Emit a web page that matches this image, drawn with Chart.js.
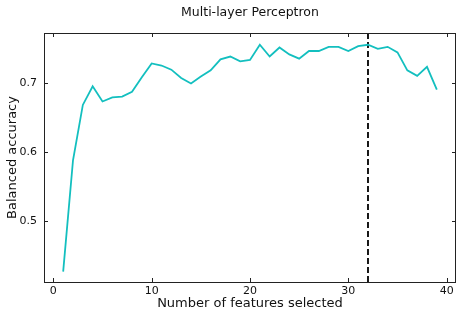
<!DOCTYPE html>
<html>
<head>
<meta charset="utf-8">
<script src="https://cdn.jsdelivr.net/npm/chart.js@4/dist/chart.umd.min.js"></script>
<style>
  html, body { margin: 0; padding: 0; background: #fff; }
</style>
</head>
<body>
<canvas id="chart" width="464" height="317"></canvas>
<script>
// features selected (x) and balanced accuracy (y)
var nFeatures = [];
for (var i = 1; i <= 39; i++) nFeatures.push(i);
var accuracy = [0.427, 0.588, 0.668, 0.695, 0.673, 0.679, 0.680, 0.687, 0.708, 0.728,
                0.725, 0.719, 0.707, 0.699, 0.709, 0.718, 0.734, 0.738, 0.731, 0.733,
                0.755, 0.738, 0.751, 0.741, 0.735, 0.746, 0.746, 0.752, 0.752, 0.746,
                0.753, 0.755, 0.749, 0.752, 0.744, 0.718, 0.710, 0.723, 0.690];
var bestFeatures = 32;
var xTicks = [0, 10, 20, 30, 40];
var yTicks = [0.5, 0.6, 0.7];
var xRange = [-0.95, 40.95];
var yRange = [0.412, 0.772];

var FONT = "'DejaVu Sans', sans-serif";

// box round the plot plus inward ticks on all four sides
var framePlugin = {
    id: "frame",
    afterDatasetsDraw: function(chart) {
        var ctx = chart.ctx;
        var a = chart.chartArea;
        var xs = chart.scales.x, ys = chart.scales.y;
        var len = 4;
        ctx.save();
        ctx.strokeStyle = "#222";
        ctx.lineWidth = 1;
        ctx.beginPath();
        xs.ticks.forEach(function(t) {
            var px = Math.round(xs.getPixelForValue(t.value)) + 0.5;
            ctx.moveTo(px, a.bottom); ctx.lineTo(px, a.bottom - len);
            ctx.moveTo(px, a.top); ctx.lineTo(px, a.top + len);
        });
        ys.ticks.forEach(function(t) {
            var py = Math.round(ys.getPixelForValue(t.value)) + 0.5;
            ctx.moveTo(a.left, py); ctx.lineTo(a.left + len, py);
            ctx.moveTo(a.right, py); ctx.lineTo(a.right - len, py);
        });
        ctx.stroke();
        ctx.strokeRect(Math.round(a.left) + 0.5, Math.round(a.top) + 0.5,
                       Math.round(a.right - a.left) - 1, Math.round(a.bottom - a.top));
        ctx.restore();
    }
};

var ctx = document.getElementById("chart").getContext("2d");
window.mlpChart = new Chart(ctx, {
    type: "line",
    data: {
        datasets: [{
            data: nFeatures.map(function(x, i) { return {x: x, y: accuracy[i]}; }),
            borderColor: "#13bfbf",
            borderWidth: 1.8,
            pointRadius: 0,
            tension: 0,
            fill: false
        }, {
            data: [{x: bestFeatures, y: yRange[0]}, {x: bestFeatures, y: yRange[1]}],
            borderColor: "#000",
            borderWidth: 1.8,
            borderDash: [6, 3],
            pointRadius: 0,
            fill: false
        }]
    },
    options: {
        responsive: false,
        animation: false,
        events: [],
        layout: { padding: { left: 0, right: 8, top: 0, bottom: 0 } },
        plugins: {
            legend: { display: false },
            tooltip: { enabled: false },
            title: {
                display: true,
                text: "Multi-layer Perceptron",
                fullSize: false,
                color: "#111",
                font: { family: FONT, size: 12.5, weight: "normal" },
                padding: { top: 5, bottom: 13 }
            }
        },
        scales: {
            x: {
                type: "linear",
                min: xRange[0],
                max: xRange[1],
                afterBuildTicks: function(s) { s.ticks = xTicks.map(function(v) { return {value: v}; }); },
                afterFit: function(s) { s.height = 35; },
                grid: { display: false, drawTicks: false },
                border: { display: false },
                ticks: {
                    padding: 3,
                    color: "#111",
                    maxRotation: 0,
                    font: { family: FONT, size: 11 }
                },
                title: {
                    display: true,
                    text: "Number of features selected",
                    color: "#111",
                    font: { family: FONT, size: 13 },
                    padding: { top: 0, bottom: 6 }
                }
            },
            y: {
                type: "linear",
                min: yRange[0],
                max: yRange[1],
                afterBuildTicks: function(s) { s.ticks = yTicks.map(function(v) { return {value: v}; }); },
                afterFit: function(s) { s.width = 44; },
                grid: { display: false, drawTicks: false },
                border: { display: false },
                ticks: {
                    padding: 7,
                    color: "#111",
                    font: { family: FONT, size: 11 },
                    callback: function(v) { return v.toFixed(1); }
                },
                title: {
                    display: true,
                    text: "Balanced accuracy",
                    color: "#111",
                    font: { family: FONT, size: 13 },
                    padding: { top: 5, bottom: 0 }
                }
            }
        }
    },
    plugins: [framePlugin]
});
</script>
</body>
</html>
